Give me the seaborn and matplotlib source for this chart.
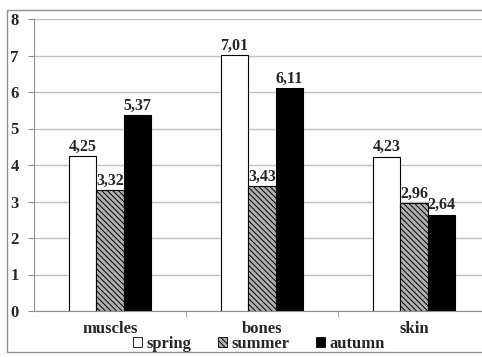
import pandas as pd
import matplotlib.pyplot as plt
import seaborn as sns
from matplotlib.patches import Patch, Rectangle

tissues = ['muscles', 'bones', 'skin']
seasons = ['spring', 'summer', 'autumn']
spring = [4.25, 7.01, 4.23]
summer = [3.32, 3.43, 2.96]
autumn = [5.37, 6.11, 2.64]

df = pd.DataFrame({
    'tissue': tissues * 3,
    'season': [s for s in seasons for _ in tissues],
    'value': spring + summer + autumn,
})

sns.set_style('white')
plt.rcParams['font.family'] = ['Liberation Serif', 'DejaVu Serif']
plt.rcParams['font.weight'] = 'bold'
plt.rcParams['hatch.linewidth'] = 0.7

fig = plt.figure(figsize=(4.82, 3.57), dpi=100)
W, H = 482, 357
ax = fig.add_axes([34 / W, 1 - 311 / H, 456 / W, 292 / H])

hatch = '\\\\\\\\\\\\'
cols = {'spring': 'white', 'summer': '#b0b0b0', 'autumn': 'black'}
sns.barplot(data=df, x='tissue', y='value', hue='season', order=tissues,
            hue_order=seasons, palette=cols, width=0.545, edgecolor='black',
            linewidth=0.8, ax=ax, legend=False, saturation=1)

for c, s in zip(ax.containers, seasons):
    for bar in c:
        if s == 'summer':
            bar.set_hatch(hatch)
    ax.bar_label(c, labels=[f'{v:.2f}'.replace('.', ',') for v in c.datavalues],
                 padding=1, fontsize=11.5, fontweight='bold')

ax.set_ylim(0, 8)
ax.set_xlim(-0.5, 2.5)
ax.set_yticks(range(0, 9))
ax.yaxis.grid(True, color='#c0c0c0', linewidth=1)
ax.set_axisbelow(True)
ax.set_xlabel('')
ax.set_ylabel('')
for side in ['top', 'right']:
    ax.spines[side].set_visible(False)
for side in ['left', 'bottom']:
    ax.spines[side].set_color('#909090')
ax.set_xticks([0, 1, 2])
ax.set_xticks([0.5, 1.5], minor=True)
ax.tick_params(axis='x', which='major', length=0, pad=7, labelsize=12)
ax.tick_params(axis='x', which='minor', length=4, color='#909090', direction='out')
ax.tick_params(axis='y', length=4, color='#909090', direction='out', pad=7, labelsize=12)
ax.tick_params(bottom=True, left=True, which='both')
ax.tick_params(axis='x', which='major', bottom=False)

handles = [Patch(facecolor='white', edgecolor='black', linewidth=0.6),
           Patch(facecolor='#b0b0b0', edgecolor='black', hatch=hatch, linewidth=0.6),
           Patch(facecolor='black', edgecolor='black', linewidth=0.6)]
fig.legend(handles, seasons, loc='center', bbox_to_anchor=(259 / W, 1 - 344 / H),
           ncol=3, frameon=False, handlelength=0.55, handleheight=0.55,
           handletextpad=0.25, columnspacing=1.6, fontsize=12)

fig.patches.append(Rectangle((7 / W, 1 - 352 / H), 1, 342 / H, transform=fig.transFigure,
                             fill=False, edgecolor='#909090', linewidth=1))

fig.savefig('out.png', dpi=100)
